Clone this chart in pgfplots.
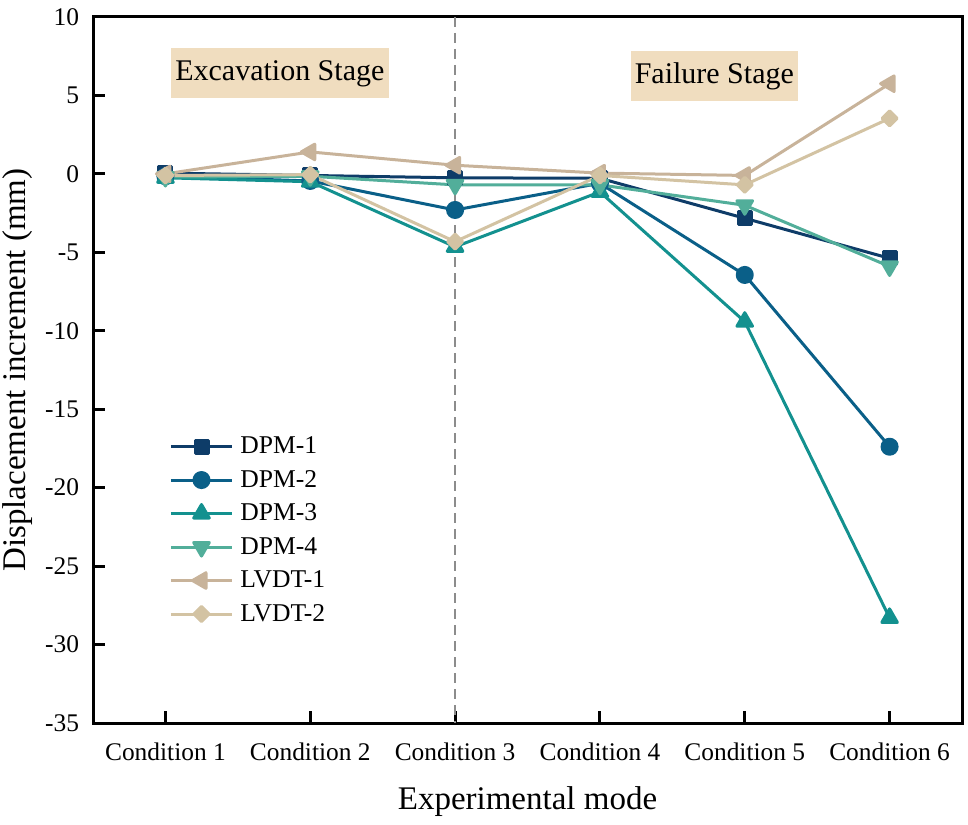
\documentclass[border=0pt]{standalone}
\usepackage{fontspec}
\setmainfont{Liberation Serif}
\usepackage{pgfplots}
\pgfplotsset{compat=1.18}
\definecolor{cA}{HTML}{0E3C68}
\definecolor{cB}{HTML}{0A5F88}
\definecolor{cC}{HTML}{13918F}
\definecolor{cD}{HTML}{52AE9A}
\definecolor{cE}{HTML}{C8B39A}
\definecolor{cF}{HTML}{D3C3A3}
\definecolor{boxc}{HTML}{F0DDBF}
\begin{document}
\begin{tikzpicture}
\begin{axis}[name=ax, scale only axis, width=434.5bp, height=353bp,
  xmin=0.5, xmax=6.5, ymin=-35, ymax=10,
  xtick={1,2,3,4,5,6},
  xticklabels={Condition 1,Condition 2,Condition 3,Condition 4,Condition 5,Condition 6},
  ytick={-35,-30,-25,-20,-15,-10,-5,0,5,10},
  xtick pos=bottom, ytick pos=left, tick align=inside,
  major tick length=6bp,
  tick style={line width=1.5bp, black},
  axis line style={line width=1.5bp},
  /pgf/number format/assume math mode=true,
  ticklabel style={font=\fontsize{12.7bp}{15bp}\selectfont},
  xticklabel style={anchor=base, yshift=-18.5bp},
  yticklabel style={xshift=-3.5bp},
  xlabel={Experimental mode},
  ylabel={Displacement increment (mm)},
  label style={font=\fontsize{16.5bp}{19bp}\selectfont},
  xlabel style={at={(axis description cs:0.5,0)}, anchor=base, yshift=-43bp},
  ylabel style={at={(axis description cs:-0.0782,0.5)}, anchor=base},
  legend cell align=left,
  legend style={at={(axis description cs:0.0878,0.41)}, anchor=north west,
    draw=none, fill=none, inner sep=0pt, outer sep=0pt,
    font=\fontsize{12.8bp}{15bp}\selectfont,
    row sep=3.75bp, column sep=3.3bp,
    nodes={inner sep=0pt, text height=10bp, text depth=3bp}},
  legend image code/.code={\draw[mark repeat=2,mark phase=2] plot coordinates {(0bp,0bp) (15.35bp,0bp) (30.7bp,0bp)};},
  every axis plot/.append style={line width=1.5bp, line join=round},
]
\addplot[color=black!45, line width=1.1bp, dash pattern=on 5bp off 3bp, forget plot] coordinates {(3,10) (3,-35)};
\addplot[cA, mark=square*, mark size=3.25bp, mark options={solid}] coordinates {(1,0.05)(2,-0.1)(3,-0.25)(4,-0.28)(5,-2.83)(6,-5.38)};
\addlegendentry{DPM-1}
\addplot[cB, mark=*, mark size=3.75bp, mark options={solid}] coordinates {(1,-0.15)(2,-0.45)(3,-2.3)(4,-0.6)(5,-6.44)(6,-17.39)};
\addlegendentry{DPM-2}
\addplot[cC, mark=triangle*, mark size=4.5bp, mark options={solid}] coordinates {(1,-0.25)(2,-0.5)(3,-4.65)(4,-1.15)(5,-9.42)(6,-28.3)};
\addlegendentry{DPM-3}
\addplot[cD, mark=triangle*, mark size=4.5bp, mark options={solid, rotate=180}] coordinates {(1,-0.2)(2,-0.15)(3,-0.7)(4,-0.7)(5,-2.0)(6,-5.9)};
\addlegendentry{DPM-4}
\addplot[cE, mark=triangle*, mark size=4.5bp, mark options={solid, rotate=90}] coordinates {(1,0)(2,1.4)(3,0.55)(4,0.05)(5,-0.1)(6,5.75)};
\addlegendentry{LVDT-1}
\addplot[cF, mark=square*, mark size=2.65bp, mark options={solid, rotate=45}] coordinates {(1,-0.1)(2,-0.05)(3,-4.32)(4,-0.1)(5,-0.7)(6,3.54)};
\addlegendentry{LVDT-2}
\node[fill=boxc, font=\fontsize{15bp}{18bp}\selectfont, minimum width=109bp, minimum height=25bp, inner sep=0pt] at (axis cs:1.79,6.41) {Excavation Stage};
\node[fill=boxc, font=\fontsize{15bp}{18bp}\selectfont, minimum width=83.8bp, minimum height=25.2bp, inner sep=0pt] at (axis cs:4.79,6.25) {Failure Stage};
\end{axis}
\pgfresetboundingbox
\path ([xshift=-46.5bp,yshift=-50.5bp]ax.south west) rectangle ([xshift=3bp,yshift=8.5bp]ax.north east);
\end{tikzpicture}
\end{document}
